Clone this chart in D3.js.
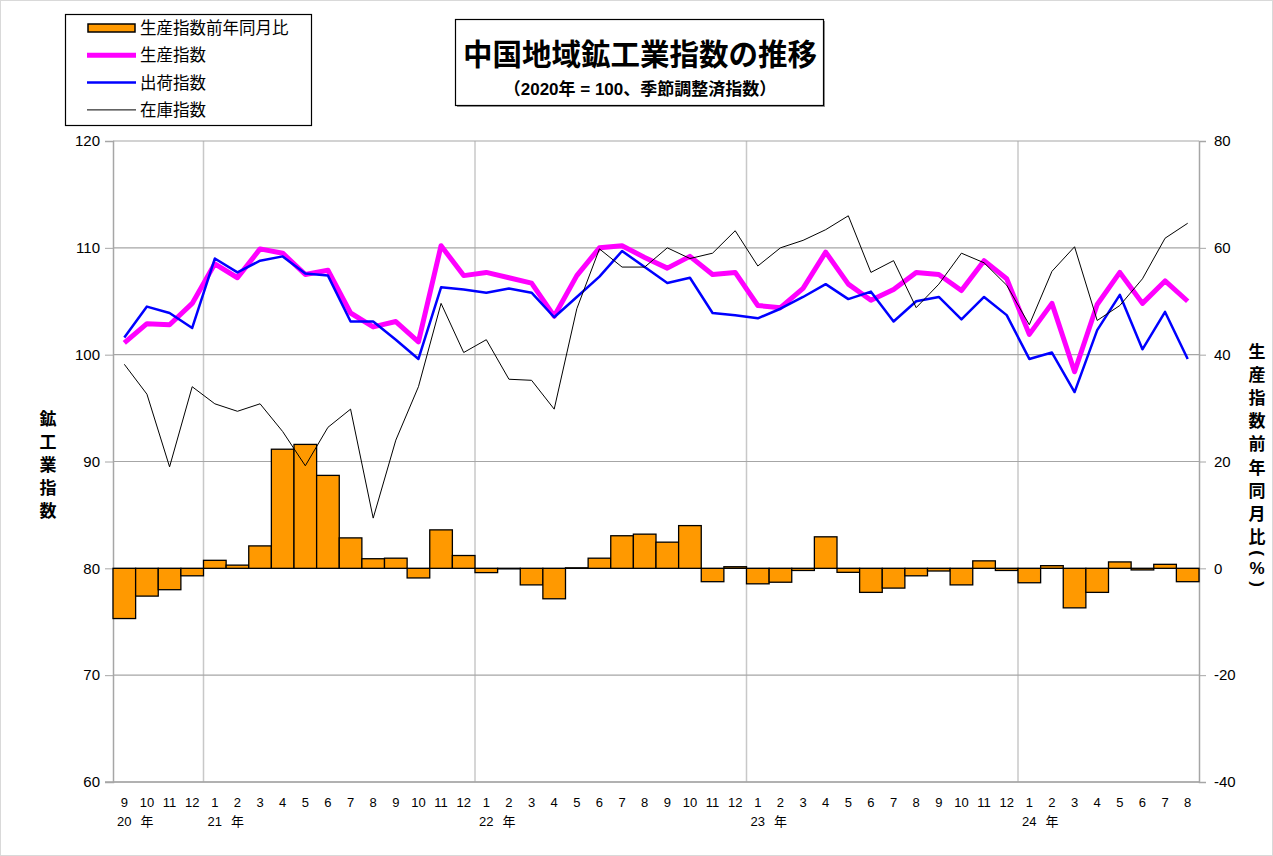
<!DOCTYPE html>
<html>
<head>
<meta charset="utf-8">
<script src="https://cdn.jsdelivr.net/npm/d3@7"></script>
<style>
  body { margin: 0; background: #fff; }
  svg text { font-family: 'Liberation Sans', 'Noto Sans CJK JP', sans-serif; }
</style>
</head>
<body>
<svg id="chart" width="1273" height="856"></svg>
<script>
// months 2020/9 .. 2024/8
var months = ['9','10','11','12','1','2','3','4','5','6','7','8','9','10','11','12',
              '1','2','3','4','5','6','7','8','9','10','11','12',
              '1','2','3','4','5','6','7','8','9','10','11','12',
              '1','2','3','4','5','6','7','8'];
var yearLabels = [[0, '20'], [4, '21'], [16, '22'], [28, '23'], [40, '24']];

var prodYoY = [-9.4, -5.2, -4.0, -1.4, 1.5, 0.6, 4.2, 22.3, 23.2, 17.4,
               5.7, 1.8, 1.9, -1.8, 7.2, 2.4, -0.8, -0.1, -3.1, -5.7,
               0.1, 1.9, 6.1, 6.4, 4.9, 8.0, -2.5, 0.3, -2.9, -2.6,
               -0.4, 5.9, -0.75, -4.5, -3.7, -1.4, -0.5, -3.1, 1.4, -0.4,
               -2.7, 0.5, -7.4, -4.5, 1.2, -0.3, 0.75, -2.5];
var prod = [101.1, 102.9, 102.8, 104.8, 108.5, 107.2, 109.9, 109.5, 107.5, 107.9,
            103.9, 102.6, 103.1, 101.2, 110.2, 107.4, 107.7, 107.2, 106.7, 103.6,
            107.4, 110.0, 110.2, 109.1, 108.1, 109.2, 107.5, 107.7, 104.6, 104.4,
            106.2, 109.6, 106.6, 105.1, 106.1, 107.7, 107.5, 106.0, 108.8, 107.1,
            101.9, 104.8, 98.4, 104.7, 107.7, 104.8, 106.9, 105.0];
var ship = [101.6, 104.5, 103.9, 102.5, 109.0, 107.7, 108.8, 109.2, 107.6, 107.4,
            103.1, 103.1, 101.4, 99.6, 106.3, 106.1, 105.8, 106.2, 105.8, 103.5,
            105.4, 107.3, 109.7, 108.2, 106.7, 107.2, 103.9, 103.7, 103.4, 104.3,
            105.4, 106.6, 105.2, 105.9, 103.1, 105.0, 105.4, 103.3, 105.4, 103.7,
            99.6, 100.2, 96.5, 102.3, 105.6, 100.5, 104.0, 99.6];
var inv = [99.1, 96.3, 89.5, 97.0, 95.4, 94.7, 95.4, 92.8, 89.6, 93.2,
           94.9, 84.7, 92.0, 97.0, 104.8, 100.2, 101.4, 97.7, 97.6, 94.9,
           104.3, 109.9, 108.2, 108.2, 110.0, 109.0, 109.5, 111.6, 108.3, 110.0,
           110.7, 111.7, 113.0, 107.7, 108.8, 104.4, 106.6, 109.5, 108.6, 106.5,
           102.8, 107.8, 110.1, 103.2, 104.6, 107.1, 110.9, 112.3];
var leftTicks = [60, 70, 80, 90, 100, 110, 120];
var rightTicks = [-40, -20, 0, 20, 40, 60, 80];

var svg = d3.select('#chart');
var plot = {l: 113, r: 1199, t: 141, b: 782};

// outer frame
svg.append('rect')
    .attr('x', 0.5).attr('y', 0.5)
    .attr('width', 1272).attr('height', 855)
    .attr('fill', '#fff').attr('stroke', '#d9d9d9');

var x = d3.scaleBand().domain(d3.range(months.length)).range([plot.l, plot.r]).padding(0);
var yL = d3.scaleLinear().domain([60, 120]).range([plot.b, plot.t]);
var yR = d3.scaleLinear().domain([-40, 80]).range([plot.b, plot.t]);
var bw = x.bandwidth();

// vertical grid at year boundaries
yearLabels.slice(1).forEach(function (d) {
    svg.append('line')
        .attr('x1', x(d[0])).attr('x2', x(d[0]))
        .attr('y1', plot.t).attr('y2', plot.b)
        .attr('stroke', '#c8c8c8').attr('stroke-width', 1.5);
});

// horizontal grid
svg.append('g').selectAll('line')
    .data(leftTicks)
    .enter().append('line')
    .attr('x1', plot.l).attr('x2', plot.r)
    .attr('y1', function (d) { return yL(d); })
    .attr('y2', function (d) { return yL(d); })
    .attr('stroke', '#a6a6a6').attr('stroke-width', 1.2);

// left axis
var axL = svg.append('g')
    .attr('transform', 'translate(' + plot.l + ',0)')
    .call(d3.axisLeft(yL).tickValues(leftTicks).tickSize(8).tickPadding(5));
axL.select('.domain').attr('stroke', '#a6a6a6').attr('stroke-width', 1.5);
axL.selectAll('.tick line').attr('stroke', '#a6a6a6');
axL.selectAll('.tick text').style('font-size', '15px').attr('fill', '#000');

// right axis (plain hyphen for negatives)
var axR = svg.append('g')
    .attr('transform', 'translate(' + plot.r + ',0)')
    .call(d3.axisRight(yR).tickValues(rightTicks).tickSize(7).tickPadding(8)
        .tickFormat(function (d) { return String(d); }));
axR.select('.domain').attr('stroke', '#a6a6a6').attr('stroke-width', 1.5);
axR.selectAll('.tick line').attr('stroke', '#a6a6a6');
axR.selectAll('.tick text').style('font-size', '15px').attr('fill', '#000');

// bottom axis line
svg.append('line')
    .attr('x1', plot.l - 8).attr('x2', plot.r)
    .attr('y1', plot.b).attr('y2', plot.b)
    .attr('stroke', '#a6a6a6').attr('stroke-width', 1.5);

// month labels
svg.append('g').selectAll('text')
    .data(months)
    .enter().append('text')
    .attr('x', function (d, i) { return x(i) + bw / 2; })
    .attr('y', 807)
    .attr('text-anchor', 'middle')
    .style('font-size', '13px')
    .text(function (d) { return d; });

yearLabels.forEach(function (d) {
    svg.append('text')
        .attr('x', x(d[0]) + bw / 2).attr('y', 826)
        .attr('text-anchor', 'middle')
        .style('font-size', '13px')
        .text(d[1]);
    svg.append('text')
        .attr('x', x(d[0] + 1) + bw / 2).attr('y', 826)
        .attr('text-anchor', 'middle')
        .style('font-size', '13px')
        .text('年');
});

// bars (right axis)
svg.append('g').selectAll('rect')
    .data(prodYoY)
    .enter().append('rect')
    .attr('x', function (d, i) { return x(i); })
    .attr('y', function (d) { return yR(Math.max(0, d)); })
    .attr('width', bw)
    .attr('height', function (d) { return Math.abs(yR(d) - yR(0)); })
    .attr('fill', '#ff9900')
    .attr('stroke', '#000')
    .attr('stroke-width', 1.3);

// lines (left axis)
var line = d3.line()
    .x(function (d, i) { return x(i) + bw / 2; })
    .y(function (d) { return yL(d); });

svg.append('path').datum(prod)
    .attr('d', line).attr('fill', 'none')
    .attr('stroke', '#ff00ff').attr('stroke-width', 5).attr('stroke-linejoin', 'round');
svg.append('path').datum(ship)
    .attr('d', line).attr('fill', 'none')
    .attr('stroke', '#0000ff').attr('stroke-width', 2.5).attr('stroke-linejoin', 'round');
svg.append('path').datum(inv)
    .attr('d', line).attr('fill', 'none')
    .attr('stroke', '#000').attr('stroke-width', 1);

// axis titles, one glyph per row; brackets turned sideways and packed tighter
function vTitle(str, cx, y0, step) {
    var g = svg.append('g');
    var cy = y0;
    Array.from(str).forEach(function (ch, i) {
        var narrow = (ch === '(' || ch === ')' || ch === '%');
        if (i > 0) {
            var prev = str[i - 1];
            var prevNarrow = (prev === '(' || prev === ')' || prev === '%');
            cy += (narrow || prevNarrow) ? 15.5 : step;
        }
        var t = g.append('text')
            .attr('x', cx).attr('y', cy)
            .attr('text-anchor', 'middle')
            .attr('dominant-baseline', 'central')
            .style('font-size', '17px')
            .style('font-weight', 'bold')
            .text(ch);
        if (ch === '(' || ch === ')') {
            t.attr('transform', 'rotate(90,' + cx + ',' + cy + ')');
        }
    });
}
vTitle('鉱工業指数', 48, 419, 23);
vTitle('生産指数前年同月比(%)', 1257, 352, 23.2);

// legend
var lg = svg.append('g');
lg.append('rect')
    .attr('x', 65.5).attr('y', 14.5).attr('width', 246).attr('height', 111)
    .attr('fill', '#fff').attr('stroke', '#000').attr('stroke-width', 1.2);
var legendItems = [
    {name: '生産指数前年同月比', type: 'bar'},
    {name: '生産指数', color: '#ff00ff', w: 5},
    {name: '出荷指数', color: '#0000ff', w: 2.5},
    {name: '在庫指数', color: '#000', w: 1}
];
legendItems.forEach(function (d, i) {
    var cy = 28 + i * 27.3;
    if (d.type === 'bar') {
        lg.append('rect')
            .attr('x', 88).attr('y', cy - 4).attr('width', 47).attr('height', 8)
            .attr('fill', '#ff9900').attr('stroke', '#000').attr('stroke-width', 1.5);
    } else {
        lg.append('line')
            .attr('x1', 87).attr('x2', 136).attr('y1', cy).attr('y2', cy)
            .attr('stroke', d.color).attr('stroke-width', d.w);
    }
    lg.append('text')
        .attr('x', 140).attr('y', cy + 6)
        .style('font-size', '16.5px')
        .text(d.name);
});

// title box
svg.append('rect')
    .attr('x', 457).attr('y', 21).attr('width', 368).attr('height', 86)
    .attr('fill', '#999');
svg.append('rect')
    .attr('x', 455.5).attr('y', 19.5).attr('width', 368).attr('height', 86)
    .attr('fill', '#fff').attr('stroke', '#000').attr('stroke-width', 1.2);
svg.append('text')
    .attr('x', 640).attr('y', 65)
    .attr('text-anchor', 'middle')
    .style('font-size', '29.5px').style('font-weight', 'bold')
    .text('中国地域鉱工業指数の推移');
svg.append('text')
    .attr('x', 640).attr('y', 95)
    .attr('text-anchor', 'middle')
    .style('font-size', '17px').style('font-weight', 'bold')
    .text('（2020年 = 100、季節調整済指数）');
</script>
</body>
</html>
